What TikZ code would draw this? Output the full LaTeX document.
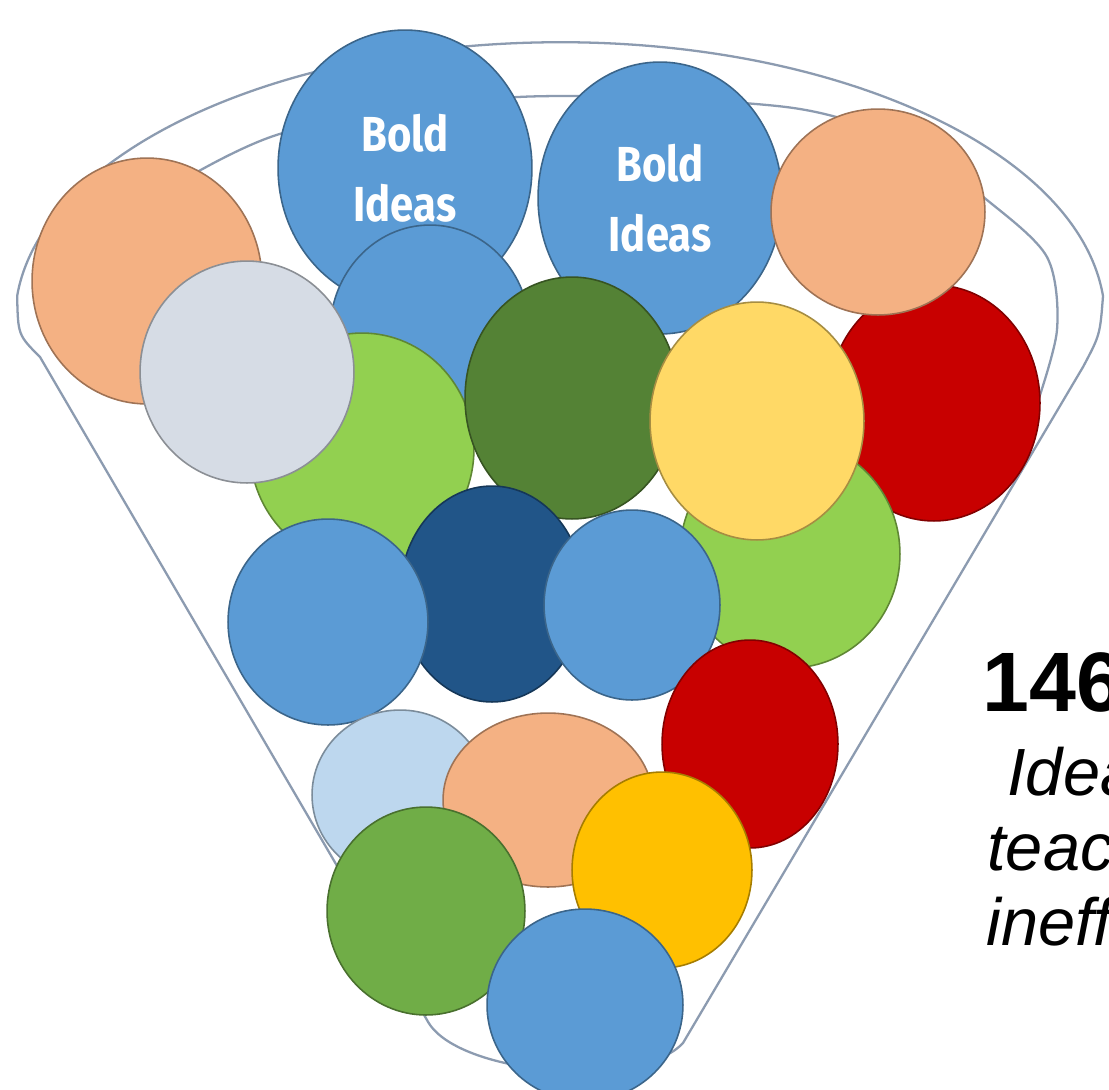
\documentclass[tikz,border=0pt]{standalone}
\usepackage{fontspec}
\setmainfont{Liberation Sans}
\newfontfamily\ideafont[FakeStretch=0.85]{Fira Sans}
\usetikzlibrary{shapes.geometric}
\definecolor{peach}{HTML}{F4B183}
\definecolor{ballblue}{HTML}{5B9BD5}
\definecolor{ballred}{HTML}{C80000}
\definecolor{lime}{HTML}{92D050}
\definecolor{greyblue}{HTML}{D6DCE5}
\definecolor{forest}{HTML}{548235}
\definecolor{butter}{HTML}{FFD966}
\definecolor{navy}{HTML}{215588}
\definecolor{sky}{HTML}{BDD7EE}
\definecolor{gold}{HTML}{FFC000}
\definecolor{grass}{HTML}{70AD47}
\definecolor{funnelgrey}{HTML}{8C9BB0}
\begin{document}
\begin{tikzpicture}[x=0.02cm,y=-0.02cm,
	ball/.style={ellipse,draw=#1!65!black,fill=#1,line width=0.9pt,inner sep=0pt},
	funnel/.style={draw=funnelgrey,line width=1.3pt},
	bold ideas/.style={text=white,align=center,font=\ideafont\bfseries\fontsize{28}{40}\selectfont},
	side text/.style={anchor=base west,inner sep=0pt}]
	\path[fill=white] (0,0) rectangle (1109,1089);
	\useasboundingbox (0,0) rectangle (1109,1089);
	
	% funnel outline
	\draw[funnel] (1103,296) arc[start angle=-5,end angle=-175,x radius=545,y radius=278]
		.. controls (18,335) .. (40,357) -- (427,1020)
		.. controls (455,1075) and (640,1090) .. (683,1043) -- (1083,367)
		.. controls (1100,335) .. cycle;
	\draw[funnel] plot[smooth] coordinates {(150,200) (283,133) (518,97) (786,107) (910,145) (987,200) (1047,257) (1057,330) (1035,410)};
	
	% balls, back to front
	\foreach \name/\x/\y/\rx/\ry/\col in {
		orange tl/147/281/115/123/peach,
		bold a/405/168/127/138/ballblue,
		bold b/660/198/122/136/ballblue,
		red tr/934/403/106/118/ballred,
		orange tr/878/212/107/103/peach,
		blue mid/430/332/100/107/ballblue,
		lime l/362/449/112/116/lime,
		grey l/247/372/107/111/greyblue,
		forest c/572/398/107/121/forest,
		lime r/790/554/110/114/lime,
		butter r/757/421/107/119/butter,
		navy c/492/594/92/108/navy,
		blue l/328/622/100/103/ballblue,
		blue r/632/605/88/95/ballblue,
		red b/750/744/88/104/ballred,
		sky b/400/795/88/85/sky,
		peach b/548/800/105/87/peach,
		gold b/662/870/90/98/gold,
		grass b/426/911/99/104/grass,
		blue b/585/1005/98/96/ballblue}{
		\node [ball=\col,minimum width=\rx*0.04cm,minimum height=\ry*0.04cm] (\name) at (\x,\y) {};
	}
	
	\node [bold ideas] (bold a text) at (bold a) {Bold\\Ideas};
	\node [bold ideas] (bold b text) at (bold b) {Bold\\Ideas};
	
	% text at the right
	\node [side text,font=\bfseries\fontsize{48}{48}\selectfont] (count) at (982,711) {146};
	\node [side text,font=\itshape\fontsize{38}{43}\selectfont] (line a) at (1007,795) {Idea};
	\node [side text,font=\itshape\fontsize{38}{43}\selectfont] (line b) at (987,870) {teac};
	\node [side text,font=\itshape\fontsize{38}{43}\selectfont] (line c) at (986,945) {ineff};
\end{tikzpicture}
\end{document}
